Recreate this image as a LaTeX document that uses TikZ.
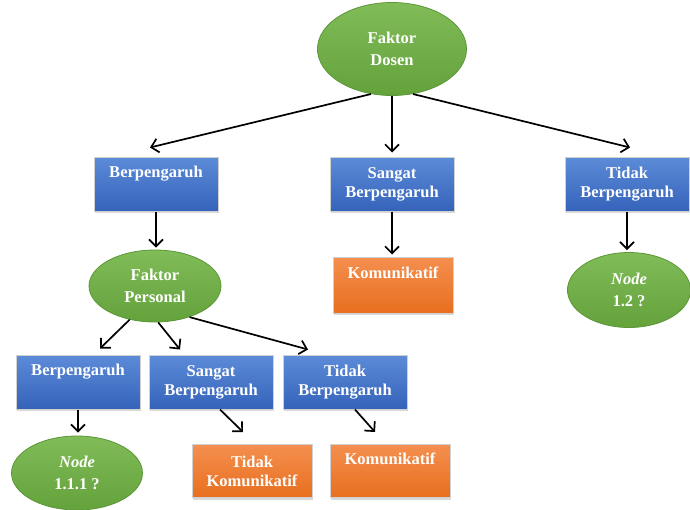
\documentclass[tikz,border=0pt]{standalone}
\usepackage{fontspec}
\setmainfont{Liberation Serif}
\usetikzlibrary{shapes.geometric,shadows,arrows.meta,calc}
\definecolor{hijauatas}{HTML}{80BC58}
\definecolor{hijaubawah}{HTML}{64A23C}
\definecolor{hijaugaris}{HTML}{5C9636}
\definecolor{biruatas}{HTML}{5C8BD8}
\definecolor{birubawah}{HTML}{3563BA}
\definecolor{oranyeatas}{HTML}{F48F4F}
\definecolor{oranyebawah}{HTML}{E86F1E}
\begin{document}
\begin{tikzpicture}[x=1pt,y=-1pt,
    faktor/.style={ellipse, draw=hijaugaris, line width=0.8pt, top color=hijauatas, bottom color=hijaubawah,
        text=white, font=\fontsize{16.5}{22}\selectfont\bfseries, align=center, inner sep=0pt},
    kotak/.style={rectangle, draw=white!82!black, line width=1pt, top color=biruatas, bottom color=birubawah,
        text=white, font=\fontsize{16.5}{19}\selectfont\bfseries, align=center, inner sep=0pt,
        minimum width=124pt, minimum height=54pt,
        drop shadow={shadow xshift=1pt, shadow yshift=-2pt, opacity=0.3}},
    hasil/.style={kotak, top color=oranyeatas, bottom color=oranyebawah, minimum width=120pt},
    panah/.style={-{Straight Barb[length=7pt,width=14pt]}, line width=1.7pt}]
    \useasboundingbox (0,0) rectangle (690,509);

    % akar
    \node[faktor, minimum width=149pt, minimum height=93pt] (dosen) at (392,49) {Faktor\\Dosen};

    % tingkat 1
    \node[kotak] (b1) at (156,184) {Berpengaruh\\ \strut};
    \node[kotak] (b2) at (392,184) {Sangat\\Berpengaruh};
    \node[kotak] (b3) at (627,184) {Tidak\\Berpengaruh};

    % tingkat 2
    \node[faktor, minimum width=132pt, minimum height=72pt] (personal) at (155,286) {Faktor\\Personal};
    \node[hasil, minimum height=56pt] (k1) at (393,285) {Komunikatif\\ \strut};
    \node[faktor, minimum width=123pt, minimum height=75pt] (n12) at (629,290) {\textit{Node}\\1.2 ?};

    % tingkat 3
    \node[kotak] (c1) at (78,382) {Berpengaruh\\ \strut};
    \node[kotak] (c2) at (211,382) {Sangat\\Berpengaruh};
    \node[kotak] (c3) at (345,382) {Tidak\\Berpengaruh};

    % tingkat 4
    \node[faktor, minimum width=131pt, minimum height=74pt] (n111) at (77,473) {\textit{Node}\\1.1.1 ?};
    \node[hasil, minimum height=53pt] (tk) at (252,471) {Tidak\\Komunikatif};
    \node[hasil, minimum height=53pt] (k2) at (390,471) {Komunikatif\\ \strut};

    \draw[panah] (dosen.245) -- ($(b1.north)+(-6,-9)$);
    \draw[panah] (dosen.south) -- ($(b2.north)+(0,-4)$);
    \draw[panah] (dosen.295) -- ($(b3.north)+(3,-9)$);

    \draw[panah, shorten >=2pt] (b1.south) -- (b1.south |- personal.north);
    \draw[panah, shorten >=2pt] (b2.south) -- (b2.south |- k1.north);
    \draw[panah, shorten >=2pt] (b3.south) -- (b3.south |- n12.north);

    \draw[panah] (personal.233) -- ($(c1.north)+(22,-6)$);
    \draw[panah] (personal.275) -- ($(c2.north)+(-31,-5)$);
    \draw[panah] (personal.318) -- ($(c3.north)+(-37,-5)$);

    \draw[panah, shorten >=3pt] (c1.south) -- (c1.south |- n111.north);
    \draw[panah] ($(c2.south)+(9,0)$) -- ($(tk.north)+(-9,-12)$);
    \draw[panah] ($(c3.south)+(10,0)$) -- ($(k2.north)+(-15,-12)$);
\end{tikzpicture}
\end{document}
